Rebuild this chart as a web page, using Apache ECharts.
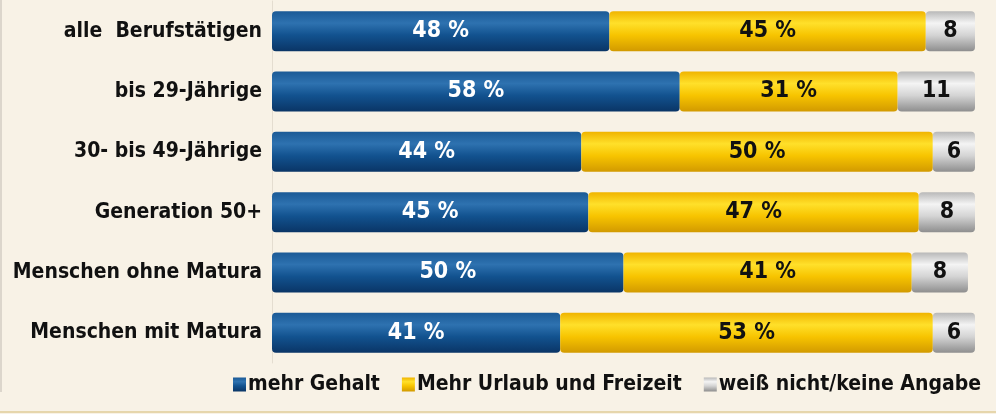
<!DOCTYPE html>
<html>
<head>
<meta charset="utf-8">
<script src="https://cdn.jsdelivr.net/npm/echarts@6/dist/echarts.min.js"></script>
<style>
  html, body { margin: 0; padding: 0; background: #f8f2e6; }
  #chart { width: 996px; height: 414px; }
</style>
</head>
<body>
<div id="chart"></div>
<script>
const categories = ['alle  Berufstätigen', 'bis 29-Jährige', '30- bis 49-Jährige', 'Generation 50+', 'Menschen ohne Matura', 'Menschen mit Matura'];
const seriesNames = ['mehr Gehalt', 'Mehr Urlaub und Freizeit', 'weiß nicht/keine Angabe'];
const mehrGehalt = [48, 58, 44, 45, 50, 41];
const mehrUrlaub = [45, 31, 50, 47, 41, 53];
const weissNicht = [8, 11, 6, 8, 8, 6];

const FONT = "'Liberation Sans Narrow', 'DejaVu Sans Condensed', 'Roboto', sans-serif";

function grad(top, light, mid, bottom) {
  return new echarts.graphic.LinearGradient(0, 0, 0, 1, [
    { offset: 0, color: top },
    { offset: 0.3, color: light },
    { offset: 0.6, color: mid },
    { offset: 1, color: bottom }
  ]);
}

const blue = grad('#1b5a96', '#2e72b0', '#12528f', '#0a3566');
const yellow = grad('#f0b400', '#ffe02a', '#f7c400', '#d29a00');
const grey = grad('#b8b8b8', '#f4f4f4', '#d4d4d4', '#8e8e8e');

function barSeries(name, data, color, labelColor, fmt) {
  return {
    name,
    type: 'bar',
    stack: 'total',
    barWidth: 40,
    data,
    itemStyle: { color, borderRadius: 4 },
    label: {
      show: true,
      position: 'inside',
      color: labelColor,
      fontFamily: FONT,
      fontWeight: 'bold',
      fontSize: 23,
      formatter: fmt
    }
  };
}

const chart = echarts.init(document.getElementById('chart'));
chart.setOption({
  backgroundColor: '#f8f2e6',
  animation: false,
  graphic: [
    // faint frame left and tan rule at the bottom, as in the print original
    { type: 'rect', left: 0, top: 0, shape: { width: 2, height: 392 }, style: { fill: '#dcd6cc' } },
    { type: 'rect', left: 0, bottom: 1, shape: { width: 996, height: 2 }, style: { fill: '#e6d6ac' } }
  ],
  grid: { left: 272, right: 21, top: 1, height: 362 },
  xAxis: { type: 'value', min: 0, max: 100, show: false },
  yAxis: {
    type: 'category',
    data: categories,
    inverse: true,
    axisLine: { show: true, lineStyle: { color: '#e4ddd0', width: 1 } },
    axisTick: { show: false },
    axisLabel: {
      color: '#111',
      fontFamily: FONT,
      fontWeight: 'bold',
      fontSize: 21,
      margin: 10
    }
  },
  legend: {
    right: 10,
    top: 369,
    itemWidth: 13,
    itemHeight: 14,
    itemGap: 22,
    icon: 'rect',
    textStyle: { color: '#111', fontFamily: FONT, fontWeight: 'bold', fontSize: 21, padding: [0, 0, 0, -3] },
    data: seriesNames
  },
  series: [
    barSeries(seriesNames[0], mehrGehalt, blue, '#ffffff', p => p.value + ' %'),
    barSeries(seriesNames[1], mehrUrlaub, yellow, '#111111', p => p.value + ' %'),
    barSeries(seriesNames[2], weissNicht, grey, '#111111', p => String(p.value))
  ]
});
</script>
</body>
</html>
